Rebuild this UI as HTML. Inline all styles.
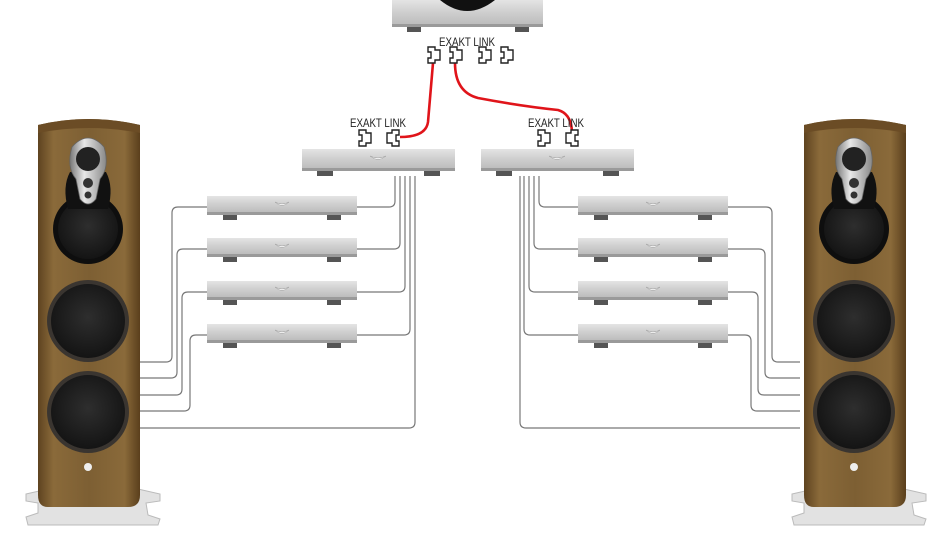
<!DOCTYPE html>
<html><head><meta charset="utf-8"><style>
html,body{margin:0;padding:0;background:#fff;overflow:hidden;width:935px;height:534px;}
svg{display:block;}
text{font-family:"Liberation Sans",sans-serif;font-size:12px;fill:#222;}
</style></head><body>
<svg width="935" height="534" viewBox="0 0 935 534" xmlns="http://www.w3.org/2000/svg">
<defs>
<linearGradient id="wood" x1="0" x2="1" y1="0" y2="0">
<stop offset="0" stop-color="#5e4320"/><stop offset="0.15" stop-color="#8a6a3a"/><stop offset="0.5" stop-color="#7d5f33"/><stop offset="0.85" stop-color="#8a6a3a"/><stop offset="1" stop-color="#5a3f1c"/>
</linearGradient>
<linearGradient id="amp" x1="0" x2="0" y1="0" y2="1">
<stop offset="0" stop-color="#e4e4e4"/><stop offset="0.5" stop-color="#cfcfcf"/><stop offset="1" stop-color="#bdbdbd"/>
</linearGradient>
<radialGradient id="cone" cx="0.5" cy="0.45" r="0.55">
<stop offset="0" stop-color="#2e2e2e"/><stop offset="1" stop-color="#141414"/>
</radialGradient>
<linearGradient id="silver" x1="0" x2="1"><stop offset="0" stop-color="#777"/><stop offset="0.4" stop-color="#e8e8e8"/><stop offset="1" stop-color="#888"/></linearGradient>
<g id="spk">
 <path d="M-62,377 L-40,372 L50,372 L72,377 L72,384 L58,386 L60,398 L72,402 L70,408 L-60,408 L-62,400 L-50,396 L-50,386 L-62,384 Z" fill="#e2e2e2" stroke="#bbb"/>
 <path d="M-50,8 Q0,-4 52,8 L52,378 Q52,390 40,390 L-40,390 Q-50,390 -50,378 Z" fill="url(#wood)"/>
 <path d="M-50,8 Q0,-4 52,8 L52,16 Q0,6 -50,16 Z" fill="#6b4c25"/>
 <circle cx="0" cy="112" r="35" fill="#0e0e0e"/>
 <circle cx="0" cy="112" r="30" fill="url(#cone)"/>
 <path d="M-20,92 Q-26,70 -18,55 L18,55 Q26,70 20,92 Z" fill="#111"/>
 <path d="M-16,30 Q0,12 16,30 Q22,50 12,62 L8,82 Q0,92 -8,82 L-12,62 Q-22,50 -16,30 Z" fill="url(#silver)" stroke="#666" stroke-width="0.8"/>
 <circle cx="0" cy="42" r="12" fill="#222"/>
 <circle cx="0" cy="66" r="5" fill="#333"/>
 <circle cx="0" cy="78" r="3.5" fill="#333"/>
 <circle cx="0" cy="204" r="41" fill="#3a3530"/>
 <circle cx="0" cy="204" r="37" fill="url(#cone)"/>
 <circle cx="0" cy="295" r="41" fill="#3a3530"/>
 <circle cx="0" cy="295" r="37" fill="url(#cone)"/>
 <circle cx="0" cy="350" r="4" fill="#eee"/>
</g>
<g id="sa">
 <rect x="0" y="0" width="150" height="16" fill="url(#amp)"/>
 <rect x="0" y="16" width="150" height="3" fill="#9a9a9a"/>
 <rect x="16" y="19" width="14" height="5" fill="#555"/>
 <rect x="120" y="19" width="14" height="5" fill="#555"/>
 <path d="M68,6 Q75,10 82,6 Q75,13 68,6 Z" fill="#fff" stroke="#999" stroke-width="0.5"/>
</g>
<g id="ma">
 <rect x="0" y="0" width="153" height="19" fill="url(#amp)"/>
 <rect x="0" y="19" width="153" height="3" fill="#9a9a9a"/>
 <rect x="15" y="22" width="16" height="5" fill="#555"/>
 <rect x="122" y="22" width="16" height="5" fill="#555"/>
 <path d="M68,7 Q76,11 84,7 Q76,14 68,7 Z" fill="#fff" stroke="#999" stroke-width="0.5"/>
</g>
<path id="cn" d="M0,0 H7 V3 H12 V13 H7 V16 H0 V11 H3 V5 H0 Z" fill="#fff" stroke="#222" stroke-width="1.4"/>
</defs>

<g fill="none" stroke="#777" stroke-width="1.2">
 <path d="M140,362 H166 Q172,362 172,356 V213 Q172,207 178,207 H207"/>
 <path d="M140,378 H171 Q177,378 177,372 V255 Q177,249 183,249 H207"/>
 <path d="M140,395 H176 Q182,395 182,389 V298 Q182,292 188,292 H207"/>
 <path d="M140,411 H184 Q190,411 190,405 V341 Q190,335 196,335 H207"/>
 <path d="M140,428 H409 Q415,428 415,422 V176"/>
 <path d="M357,207 H389 Q395,207 395,201 V176"/>
 <path d="M357,249 H394 Q400,249 400,243 V176"/>
 <path d="M357,292 H399 Q405,292 405,286 V176"/>
 <path d="M357,335 H404 Q410,335 410,329 V176"/>
 <path d="M800,362 H778 Q772,362 772,356 V213 Q772,207 766,207 H728"/>
 <path d="M800,378 H771 Q765,378 765,372 V255 Q765,249 759,249 H728"/>
 <path d="M800,395 H764 Q758,395 758,389 V298 Q758,292 752,292 H728"/>
 <path d="M800,411 H757 Q751,411 751,405 V341 Q751,335 745,335 H728"/>
 <path d="M800,428 H526 Q520,428 520,422 V176"/>
 <path d="M578,207 H545 Q539,207 539,201 V176"/>
 <path d="M578,249 H540 Q534,249 534,243 V176"/>
 <path d="M578,292 H535 Q529,292 529,286 V176"/>
 <path d="M578,335 H530 Q524,335 524,329 V176"/>
</g>

<use href="#spk" x="88" y="117"/>
<use href="#spk" x="854" y="117"/>

<rect x="392" y="0" width="151" height="24" fill="url(#amp)"/>
<rect x="392" y="24" width="151" height="3" fill="#9a9a9a"/>
<rect x="407" y="27" width="14" height="5" fill="#555"/>
<rect x="515" y="27" width="14" height="5" fill="#555"/>
<path d="M440,0 Q467,22 495,0 Z" fill="#111"/>

<use href="#ma" x="302" y="149"/>
<use href="#ma" x="481" y="149"/>
<use href="#sa" x="207" y="196"/>
<use href="#sa" x="207" y="238"/>
<use href="#sa" x="207" y="281"/>
<use href="#sa" x="207" y="324"/>
<use href="#sa" x="578" y="196"/>
<use href="#sa" x="578" y="238"/>
<use href="#sa" x="578" y="281"/>
<use href="#sa" x="578" y="324"/>

<g fill="none" stroke="#e0141a" stroke-width="2.6">
 <path d="M433,63 L428,122 Q426,137 400,137"/>
 <path d="M455,63 Q455,92 478,98 Q520,106 558,110 Q572,114 572,134"/>
</g>

<text x="439" y="46" textLength="56" lengthAdjust="spacingAndGlyphs">EXAKT LINK</text>
<text x="350" y="127" textLength="56" lengthAdjust="spacingAndGlyphs">EXAKT LINK</text>
<text x="528" y="127" textLength="56" lengthAdjust="spacingAndGlyphs">EXAKT LINK</text>
<use href="#cn" x="428" y="47"/>
<use href="#cn" x="450" y="47"/>
<use href="#cn" x="479" y="47"/>
<use href="#cn" x="501" y="47"/>
<use href="#cn" x="359" y="130"/>
<g transform="translate(399,130) scale(-1,1)"><use href="#cn"/></g>
<use href="#cn" x="538" y="130"/>
<g transform="translate(578,130) scale(-1,1)"><use href="#cn"/></g>
</svg>
</body></html>
